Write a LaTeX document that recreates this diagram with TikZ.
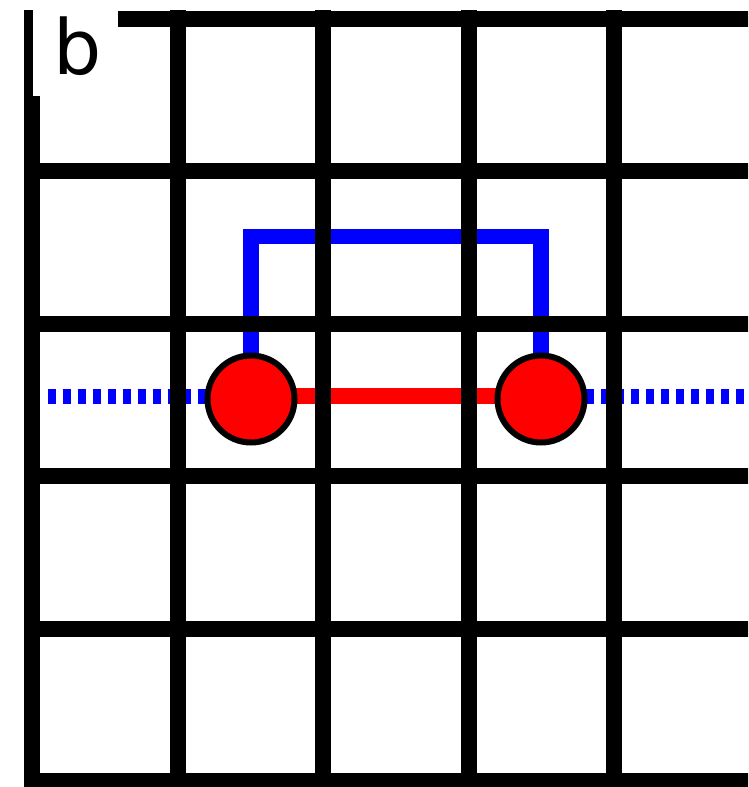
\documentclass[tikz,border=0pt]{standalone}
\usepackage{fontspec}
\setmainfont{DejaVu Sans}
\usepackage{tikz}
\usetikzlibrary{positioning,calc}
\definecolor{bondred}{RGB}{255,0,0}
\definecolor{loopblue}{RGB}{0,0,255}
\pgfdeclarelayer{back}
\pgfdeclarelayer{mid}
\pgfsetlayers{back,mid,main}

\begin{document}
\begin{tikzpicture}[x=1pt,y=-1pt,
    gridline/.style={line width=16pt,black},
    site/.style={circle,draw=black,fill=bondred,line width=6pt,minimum size=87pt,inner sep=0pt},
    bond/.style={line width=16pt,color=bondred},
    loopline/.style={line width=15.5pt,color=loopblue,line join=miter},
    dotline/.style={line width=15pt,color=loopblue,dash pattern=on 8pt off 7pt}]
    % reseau carre avec deux sites et la boucle
    \useasboundingbox (0,0) rectangle (748,787);
    \node[site] (s1) at (251,399) {};
    \node[site] (s2) at (541,399) {};
    \coordinate (dl) at (47.7,396);
    \coordinate (dr) at (760,396);
    \coordinate (c1) at (251,236.5);
    \coordinate (c2) at (541,236.5);
    \begin{pgfonlayer}{back}
      \clip (0,0) rectangle (748,787);
      \fill[white] (0,0) rectangle (748,787);
      \draw[dotline] (dl) -- (s1.center |- dl);
      \draw[dotline] (s2.center |- dr) -- (dr);
      \draw[bond] (s1.center |- dl) -- (s2.center |- dl);
      \draw[loopline] (s1.center) -- (c1) -- (c2) -- (s2.center);
    \end{pgfonlayer}
    \begin{pgfonlayer}{mid}
      \clip (0,0) rectangle (748,787);
      \foreach \i in {0,...,4}
        \draw[gridline] ({32+145.5*\i},10) -- ({32+145.5*\i},800);
      \foreach \j in {0,...,5}
        \draw[gridline] (24,{18.5+152.5*\j}) -- (760,{18.5+152.5*\j});
    \end{pgfonlayer}
    \node[fill=white,anchor=north west,minimum width=85pt,minimum height=96pt,inner sep=0pt] (tagbox) at (33,0) {};
    \node[anchor=base west,inner sep=0pt,font=\fontsize{76}{80}\selectfont] (tag) at (53,74) {b};
\end{tikzpicture}
\end{document}
